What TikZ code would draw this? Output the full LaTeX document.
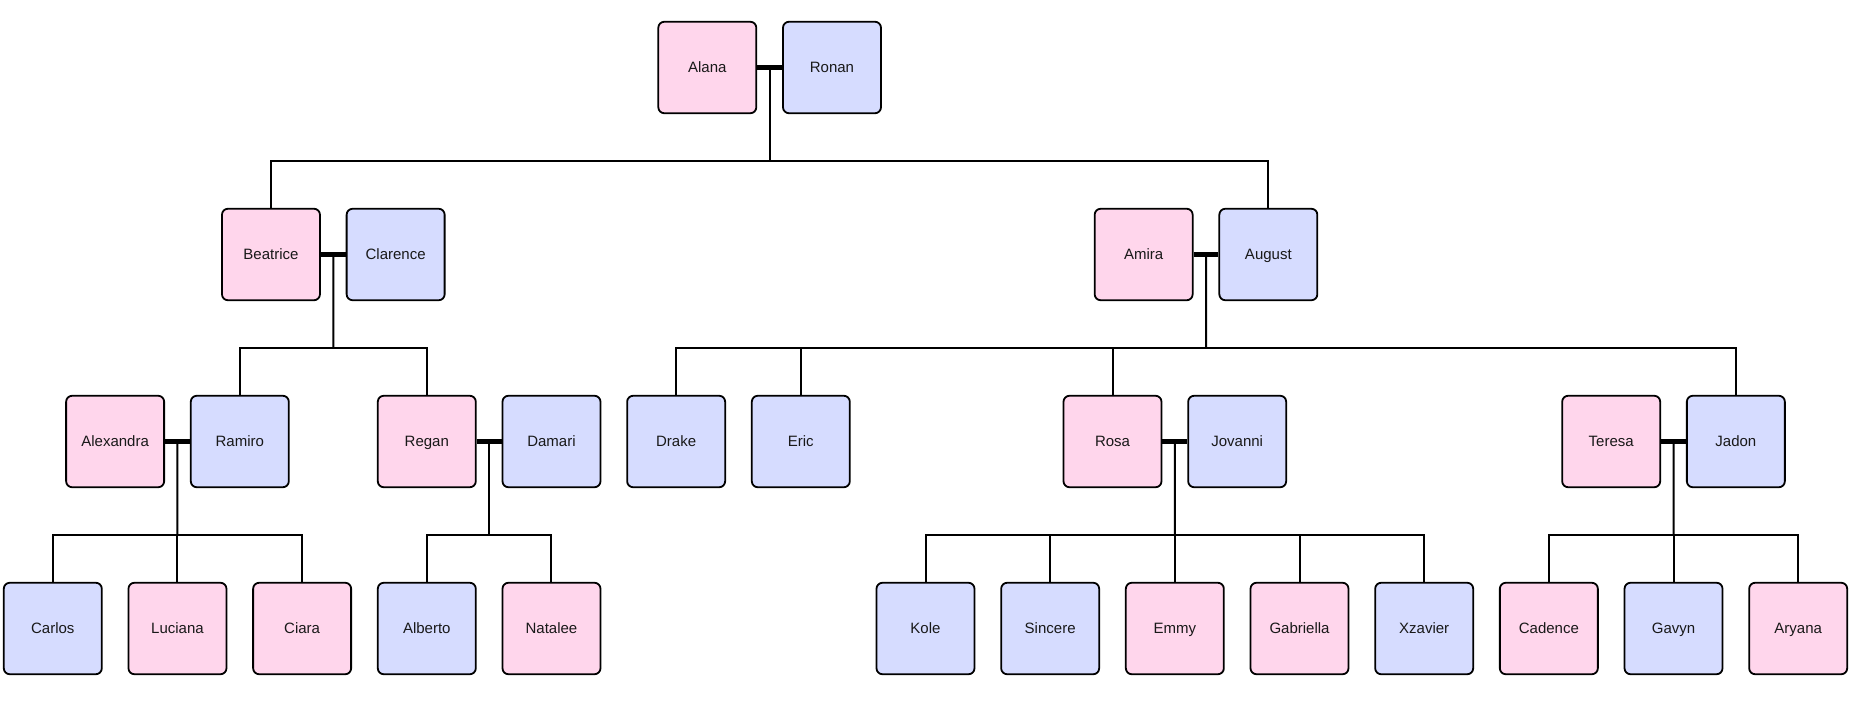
\documentclass[tikz,border=0pt]{standalone}
\usepackage{fontspec}
\setmainfont{Liberation Sans}
\usetikzlibrary{calc}
\definecolor{pinkf}{HTML}{FFD6EC}
\definecolor{bluef}{HTML}{D6DCFF}
\tikzset{
  person/.style={draw=black, line width=1.8pt, rounded corners=6pt, minimum width=98pt, minimum height=91.5pt, inner sep=0pt, text height=10.8pt, text depth=0pt, font=\fontsize{15}{17}\selectfont, text=black!90},
  fem/.style={person, fill=pinkf},
  mal/.style={person, fill=bluef},
  marriage/.style={line width=4.4pt},
  link/.style={line width=2pt},
}
\begin{document}
\begin{tikzpicture}[x=124.67pt, y=-1pt]
\useasboundingbox (0pt,0pt) rectangle (1855pt,-701pt);
\begin{scope}[shift={(52.8pt,0pt)}]
% row 1
\node[fem] (Alana) at (5.25,67.5) {Alana};
\node[mal] (Ronan) at (6.25,67.5) {Ronan};
% row 2
\node[fem] (Beatrice) at (1.75,254.5) {Beatrice};
\node[mal] (Clarence) at (2.75,254.5) {Clarence};
\node[fem] (Amira) at (8.75,254.5) {Amira};
\node[mal] (August) at (9.75,254.5) {August};
% row 3
\node[fem] (Alexandra) at (0.5,441.5) {Alexandra};
\node[mal] (Ramiro) at (1.5,441.5) {Ramiro};
\node[fem] (Regan) at (3,441.5) {Regan};
\node[mal] (Damari) at (4,441.5) {Damari};
\node[mal] (Drake) at (5,441.5) {Drake};
\node[mal] (Eric) at (6,441.5) {Eric};
\node[fem] (Rosa) at (8.5,441.5) {Rosa};
\node[mal] (Jovanni) at (9.5,441.5) {Jovanni};
\node[fem] (Teresa) at (12.5,441.5) {Teresa};
\node[mal] (Jadon) at (13.5,441.5) {Jadon};
% row 4
\node[mal] (Carlos) at (0,628.5) {Carlos};
\node[fem] (Luciana) at (1,628.5) {Luciana};
\node[fem] (Ciara) at (2,628.5) {Ciara};
\node[mal] (Alberto) at (3,628.5) {Alberto};
\node[fem] (Natalee) at (4,628.5) {Natalee};
\node[mal] (Kole) at (7,628.5) {Kole};
\node[mal] (Sincere) at (8,628.5) {Sincere};
\node[fem] (Emmy) at (9,628.5) {Emmy};
\node[fem] (Gabriella) at (10,628.5) {Gabriella};
\node[mal] (Xzavier) at (11,628.5) {Xzavier};
\node[fem] (Cadence) at (12,628.5) {Cadence};
\node[mal] (Gavyn) at (13,628.5) {Gavyn};
\node[fem] (Aryana) at (14,628.5) {Aryana};

% couple midpoints and bus points
\coordinate (mAR) at ($(Alana.east)!0.5!(Ronan.west)$);
\coordinate (bAR) at (5.75,161);
\coordinate (mBC) at ($(Beatrice.east)!0.5!(Clarence.west)$);
\coordinate (bBC) at (2.25,348);
\coordinate (mAA) at ($(Amira.east)!0.5!(August.west)$);
\coordinate (bAA) at (9.25,348);
\coordinate (mXR) at ($(Alexandra.east)!0.5!(Ramiro.west)$);
\coordinate (bXR) at (1,535);
\coordinate (mRD) at ($(Regan.east)!0.5!(Damari.west)$);
\coordinate (bRD) at (3.5,535);
\coordinate (mRJ) at ($(Rosa.east)!0.5!(Jovanni.west)$);
\coordinate (bRJ) at (9,535);
\coordinate (mTJ) at ($(Teresa.east)!0.5!(Jadon.west)$);
\coordinate (bTJ) at (13,535);
\end{scope}

% descent lines
\draw[link] (mAR) -- (bAR);
\draw[link] (Beatrice.north) |- (bAR) -| (August.north);

\draw[link] (mBC) -- (bBC);
\draw[link] (Ramiro.north) |- (bBC) -| (Regan.north);

\draw[link] (mAA) -- (bAA);
\draw[link] (Drake.north) |- (bAA) -| (Jadon.north);
\draw[link] (Eric.north) -- (Eric.north |- bAA);
\draw[link] (Rosa.north) -- (Rosa.north |- bAA);

\draw[link] (mXR) -- (bXR);
\draw[link] (Carlos.north) |- (bXR) -| (Ciara.north);
\draw[link] (Luciana.north) -- (Luciana.north |- bXR);

\draw[link] (mRD) -- (bRD);
\draw[link] (Alberto.north) |- (bRD) -| (Natalee.north);

\draw[link] (mRJ) -- (bRJ);
\draw[link] (Kole.north) |- (bRJ) -| (Xzavier.north);
\draw[link] (Sincere.north) -- (Sincere.north |- bRJ);
\draw[link] (Emmy.north) -- (Emmy.north |- bRJ);
\draw[link] (Gabriella.north) -- (Gabriella.north |- bRJ);

\draw[link] (mTJ) -- (bTJ);
\draw[link] (Cadence.north) |- (bTJ) -| (Aryana.north);
\draw[link] (Gavyn.north) -- (Gavyn.north |- bTJ);

% marriage lines
\draw[marriage] (Alana.east) -- (Ronan.west);
\draw[marriage] (Beatrice.east) -- (Clarence.west);
\draw[marriage] (Amira.east) -- (August.west);
\draw[marriage] (Alexandra.east) -- (Ramiro.west);
\draw[marriage] (Regan.east) -- (Damari.west);
\draw[marriage] (Rosa.east) -- (Jovanni.west);
\draw[marriage] (Teresa.east) -- (Jadon.west);
\end{tikzpicture}
\end{document}
